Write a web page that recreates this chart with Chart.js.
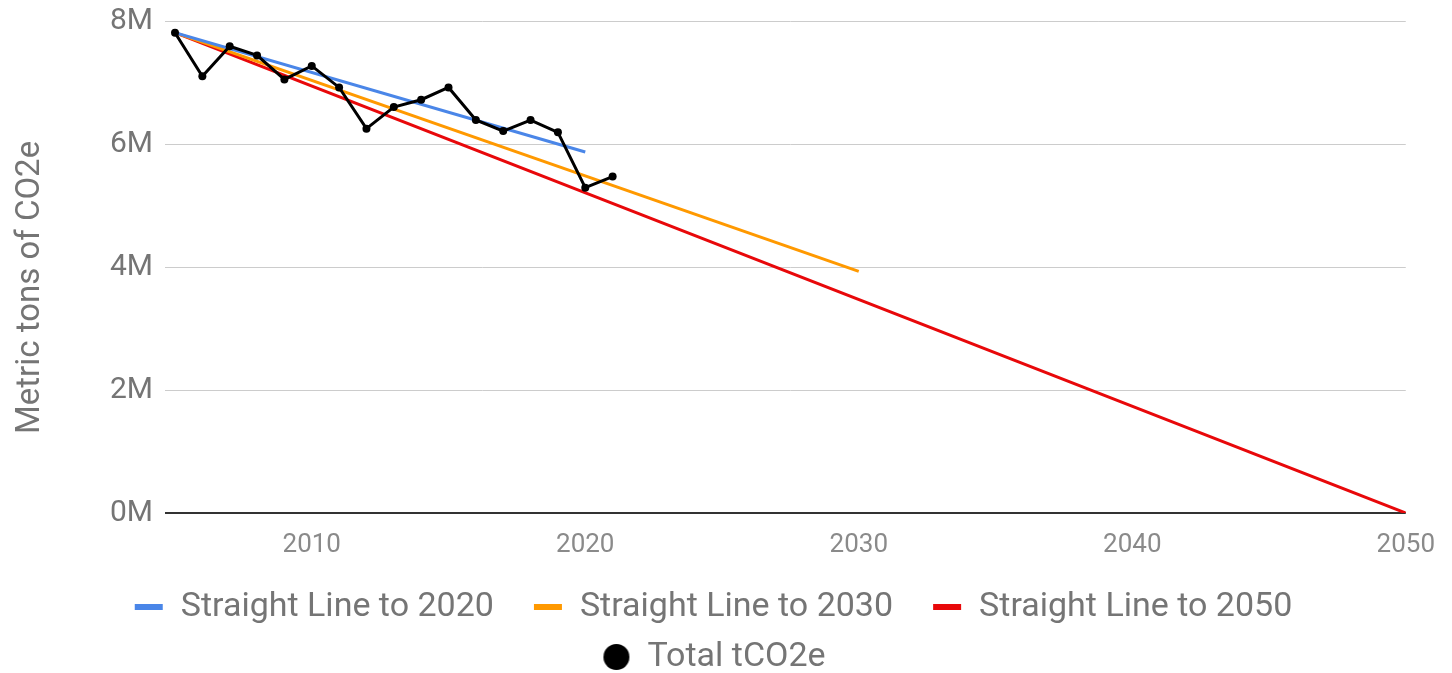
<!DOCTYPE html>
<html>
<head>
<meta charset="utf-8">
<script src="https://cdn.jsdelivr.net/npm/chart.js@4.4.0/dist/chart.umd.min.js"></script>
<style>
  body { margin: 0; background: #fff; }
  canvas { display: block; }
</style>
</head>
<body>
<canvas id="myChart" width="1452" height="673"></canvas>
<script>
// valeurs (tonnes)
const years = [2005, 2006, 2007, 2008, 2009, 2010, 2011, 2012, 2013, 2014, 2015, 2016, 2017, 2018, 2019, 2020, 2021];
const totalTCO2e = [7810000, 7100000, 7590000, 7440000, 7050000, 7270000, 6920000, 6250000, 6600000, 6720000, 6920000, 6390000, 6210000, 6390000, 6190000, 5290000, 5470000];

const line2020Years = [2005, 2020];
const line2020Values = [7810000, 5870000];
const line2030Years = [2005, 2030];
const line2030Values = [7810000, 3930000];
const line2050Years = [2005, 2050];
const line2050Values = [7810000, 0];

const xTicks = [2010, 2020, 2030, 2040, 2050];
const yTicks = [0, 2000000, 4000000, 6000000, 8000000];
const yTickLabels = ['0M', '2M', '4M', '6M', '8M'];

const seriesLabels = ['Straight Line to 2020', 'Straight Line to 2030', 'Straight Line to 2050', 'Total tCO2e'];
const seriesColors = ['#4a86e8', '#ff9900', '#e8080a', '#000000'];

function toPoints(xs, ys) {
  return xs.map((x, i) => ({ x: x, y: ys[i] }));
}

// petits dessins pour la legende
function marker(color, round) {
  const c = document.createElement('canvas');
  c.width = 53;
  c.height = 34;
  const g = c.getContext('2d');
  g.fillStyle = color;
  if (round) {
    g.beginPath();
    g.arc(39, 17, 13, 0, Math.PI * 2);
    g.fill();
  } else {
    g.fillRect(24, 14, 28, 6);
  }
  return c;
}
const markers = seriesColors.map((c, i) => marker(c, i === 3));

const ctx = document.getElementById('myChart').getContext('2d');
const myChart = new Chart(ctx, {
  type: 'line',
  data: {
    datasets: [{
      label: seriesLabels[0],
      data: toPoints(line2020Years, line2020Values),
      borderColor: seriesColors[0],
      backgroundColor: seriesColors[0],
      borderWidth: 3,
      pointRadius: 0,
      order: 1
    }, {
      label: seriesLabels[1],
      data: toPoints(line2030Years, line2030Values),
      borderColor: seriesColors[1],
      backgroundColor: seriesColors[1],
      borderWidth: 3,
      pointRadius: 0,
      order: 2
    }, {
      label: seriesLabels[2],
      data: toPoints(line2050Years, line2050Values),
      borderColor: seriesColors[2],
      backgroundColor: seriesColors[2],
      borderWidth: 3,
      pointRadius: 0,
      order: 3
    }, {
      label: seriesLabels[3],
      data: toPoints(years, totalTCO2e),
      borderColor: seriesColors[3],
      backgroundColor: seriesColors[3],
      borderWidth: 3,
      pointRadius: 4,
      pointBorderWidth: 0,
      clip: 6,
      order: 0
    }]
  },
  options: {
    responsive: false,
    animation: false,
    events: [],
    layout: { padding: { top: 20, left: -7, right: 42, bottom: -11 } },
    plugins: {
      tooltip: { enabled: false },
      legend: {
        position: 'bottom',
        labels: {
          usePointStyle: true,
          pointStyleWidth: 53,
          padding: 16,
          color: '#757575',
          font: { family: 'Roboto', size: 34 },
          sort: (a, b) => a.datasetIndex - b.datasetIndex,
          generateLabels: function (chart) {
            const items = Chart.defaults.plugins.legend.labels.generateLabels(chart);
            items.forEach(it => { it.pointStyle = markers[it.datasetIndex]; });
            return items;
          }
        }
      }
    },
    scales: {
      x: {
        type: 'linear',
        min: 2005,
        max: 2050,
        grid: { display: false, drawTicks: false },
        border: { display: false },
        afterBuildTicks: s => { s.ticks = xTicks.map(v => ({ value: v })); },
        afterFit: s => { s.height = 61; },
        ticks: {
          padding: 17,
          color: '#8a8a8a',
          font: { family: 'Roboto', size: 26 },
          callback: v => String(v)
        }
      },
      y: {
        min: 0,
        max: 8000000,
        afterBuildTicks: s => { s.ticks = yTicks.map(v => ({ value: v })); },
        afterFit: s => { s.width = 182; },
        border: { display: false },
        grid: {
          color: c => (c.tick && c.tick.value === 0) ? '#333333' : '#cccccc',
          lineWidth: c => (c.tick && c.tick.value === 0) ? 2 : 1,
          tickLength: 10
        },
        ticks: {
          padding: 12,
          color: '#757575',
          font: { family: 'Roboto', size: 30, lineHeight: 0.6 },
          callback: v => yTickLabels[yTicks.indexOf(v)]
        },
        title: {
          display: true,
          // espaces en fin de texte : decale le titre vers le bas comme sur l'original
          text: 'Metric tons of CO2e     ',
          color: '#757575',
          font: { family: 'Roboto', size: 33 },
          padding: { top: 18, bottom: 0 }
        }
      }
    }
  }
});
</script>
</body>
</html>
